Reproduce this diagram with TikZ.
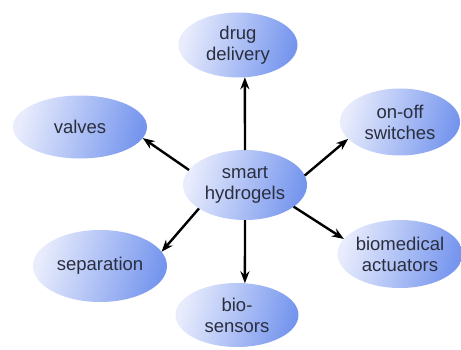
\documentclass[tikz,border=0pt]{standalone}
\usepackage{fontspec}
\setmainfont{Liberation Sans}
\usetikzlibrary{shapes.geometric,arrows.meta}

\definecolor{blobLight}{RGB}{232,236,252}
\definecolor{blobDark}{RGB}{118,150,238}
\definecolor{blobText}{RGB}{42,46,62}

\begin{document}
\begin{tikzpicture}[x=1pt,y=1pt]

        \useasboundingbox (0,0) rectangle (461,349);

        \begin{scope}[every node/.style={ellipse,inner sep=0pt,outer sep=0pt,
            left color=blobLight,right color=blobDark,shading angle=75,
            text=blobText,align=center,font=\fontsize{18.5}{21}\selectfont}]
          \node[minimum width=124,minimum height=70] (hyd)  at (245,164) {smart\\hydrogels};
          \node[minimum width=119,minimum height=65] (drug) at (238,304) {drug\\delivery};
          \node[minimum width=134,minimum height=63] (valv) at (80,222)  {valves};
          \node[minimum width=120,minimum height=67] (swit) at (400,227) {on-off\\switches};
          \node[minimum width=116,minimum height=68] (actu) at (400,95)  {biomedical\\actuators};
          \node[minimum width=123,minimum height=64] (sens) at (237,34)  {bio-\\sensors};
          \node[minimum width=134,minimum height=72] (sepa) at (100,83)  {separation};
        \end{scope}

        \begin{scope}[every edge/.style={draw,line width=2.4pt,-{Stealth[length=12pt,width=9pt]}}]
          \path (hyd.north)  edge (drug.-78);
          \path (hyd.165)    edge (valv.-10);
          \path (hyd.9)      edge (swit.-162);
          \path (hyd.-24)    edge (actu.165);
          \path (hyd.south)  edge (sens.76);
          \path (hyd.-153)   edge (sepa.13);
        \end{scope}

      \end{tikzpicture}
\end{document}
